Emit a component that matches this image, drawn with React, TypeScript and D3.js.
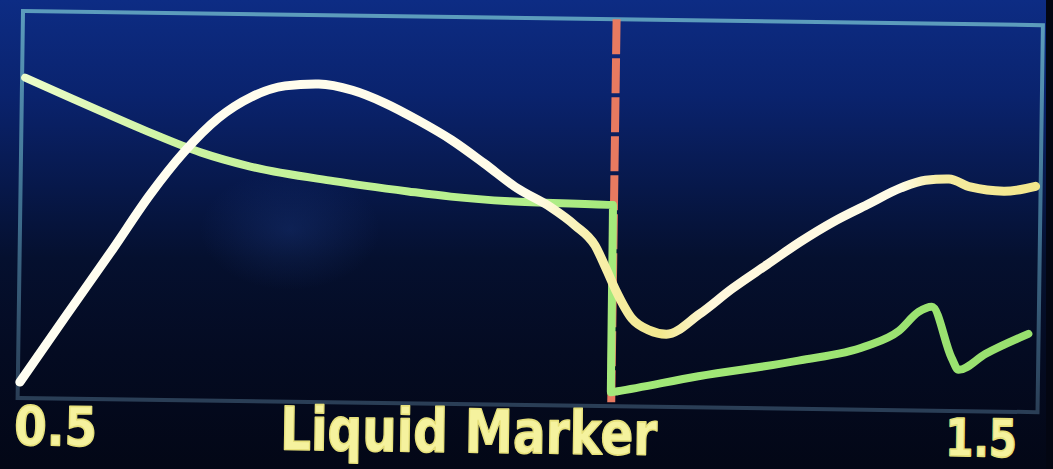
import React from 'react';
import * as d3 from 'd3';

// ---- data ----
const xDomain: [number, number] = [0.5, 1.5];
const yDomain: [number, number] = [0, 100];
const tickLabels = ['0.5', '1.5'];
const axisTitle = 'Liquid Marker';
const markerValue = 1.082;

const mainX = [0.502, 0.546, 0.591, 0.627, 0.660, 0.693, 0.725, 0.758, 0.791, 0.824, 0.856, 0.889, 0.922, 0.954, 0.987, 1.020, 1.044, 1.064, 1.075, 1.085, 1.101, 1.118, 1.135, 1.167, 1.199, 1.233, 1.265, 1.297, 1.330, 1.363, 1.387, 1.410, 1.431, 1.464, 1.495];
const mainY = [3.6, 20.9, 38.4, 52.8, 64.1, 73.0, 78.6, 81.6, 82.2, 80.7, 77.5, 73.1, 68.1, 62.2, 55.8, 51.0, 46.4, 41.2, 35.3, 29.6, 22.4, 19.4, 18.4, 23.7, 30.5, 36.9, 42.9, 48.2, 52.8, 57.3, 59.4, 59.8, 57.8, 56.8, 58.2];

const stepX = [0.503, 0.540, 0.578, 0.627, 0.676, 0.725, 0.807, 0.880, 0.922, 0.980, 1.081, 1.0815, 1.088, 1.167, 1.265, 1.330, 1.363, 1.382, 1.395, 1.415, 1.422, 1.448, 1.490];
const stepY = [82.8, 78.6, 74.3, 68.9, 64.0, 60.5, 57.0, 54.6, 53.4, 52.4, 51.8, 3.1, 3.4, 7.6, 12.0, 15.9, 20.1, 25.1, 26.5, 13.3, 10.2, 14.4, 19.8];

const W = 1053;
const H = 469;
const frame = { left: 20, right: 1040, top: 18, bottom: 405 };

export default function App() {
  const x = d3.scaleLinear().domain(xDomain).range([frame.left, frame.right]);
  const y = d3.scaleLinear().domain(yDomain).range([403, 18.5]);

  const mainData = mainX.map((v, i) => [v, mainY[i]] as [number, number]);
  const stepData = stepX.map((v, i) => [v, stepY[i]] as [number, number]);

  const line = d3
    .line<[number, number]>()
    .x((d) => x(d[0]))
    .y((d) => y(d[1]))
    .curve(d3.curveMonotoneX);

  const mx = x(markerValue);

  return (
    <svg
      width={W}
      height={H}
      viewBox={`0 0 ${W} ${H}`}
      style={{ position: 'absolute', left: 0, top: 0, display: 'block' }}
    >
      <defs>
        <linearGradient id="bg" x1="0" y1="0" x2="0" y2="1">
          <stop offset="0" stopColor="#0d2c84" />
          <stop offset="0.2" stopColor="#0a236e" />
          <stop offset="0.4" stopColor="#07184a" />
          <stop offset="0.55" stopColor="#05102f" />
          <stop offset="0.75" stopColor="#040b22" />
          <stop offset="1" stopColor="#030716" />
        </linearGradient>
        <radialGradient id="glare" cx="0.5" cy="0.5" r="0.5">
          <stop offset="0" stopColor="#2a52b0" stopOpacity="0.22" />
          <stop offset="1" stopColor="#2a52b0" stopOpacity="0" />
        </radialGradient>
        <linearGradient id="frameStroke" x1="0" y1="0" x2="0" y2="1">
          <stop offset="0" stopColor="#5c9cbc" />
          <stop offset="0.5" stopColor="#3f7090" />
          <stop offset="1" stopColor="#2a3e56" />
        </linearGradient>
        <linearGradient id="mainGrad" gradientUnits="userSpaceOnUse" x1={frame.left} y1="0" x2={frame.right} y2="0">
          <stop offset="0" stopColor="#fffef2" />
          <stop offset="0.5" stopColor="#fffce8" />
          <stop offset="0.56" stopColor="#f8f0ac" />
          <stop offset="0.63" stopColor="#f2e88e" />
          <stop offset="0.68" stopColor="#fff8dc" />
          <stop offset="0.86" stopColor="#fffce8" />
          <stop offset="0.9" stopColor="#f6eca2" />
          <stop offset="1" stopColor="#f2e68a" />
        </linearGradient>
        <linearGradient id="greenGrad" gradientUnits="userSpaceOnUse" x1={frame.left} y1="0" x2={frame.right} y2="0">
          <stop offset="0" stopColor="#edfcca" />
          <stop offset="0.15" stopColor="#cdf4a2" />
          <stop offset="0.5" stopColor="#b2ee8a" />
          <stop offset="0.6" stopColor="#a2e878" />
          <stop offset="1" stopColor="#98e06e" />
        </linearGradient>
      </defs>

      <rect x={0} y={0} width={W} height={H} fill="url(#bg)" />
      <ellipse cx={290} cy={230} rx={90} ry={60} fill="url(#glare)" />
      <rect x={1046} y={0} width={7} height={H} fill="#030612" />

      <g transform="rotate(0.8, 526, 230)">
        <rect
          x={frame.left}
          y={frame.top}
          width={frame.right - frame.left}
          height={frame.bottom - frame.top}
          fill="none"
          stroke="url(#frameStroke)"
          strokeWidth={4}
        />

        <line
          x1={mx}
          x2={mx}
          y1={frame.top}
          y2={frame.bottom - 4}
          stroke="#e87a60"
          strokeWidth={8}
          strokeDasharray="35 4"
        />

        <path d={line(stepData) || ''} fill="none" stroke="url(#greenGrad)" strokeWidth={8} strokeLinejoin="round" strokeLinecap="round" />
        <path d={line(mainData) || ''} fill="none" stroke="url(#mainGrad)" strokeWidth={9} strokeLinejoin="round" strokeLinecap="round" />

        <g fontFamily="DejaVu Sans" fontWeight="bold" fill="#f5f29e" stroke="#e6e07a" strokeWidth={1.6} strokeLinejoin="round">
          <text x={x(0.5) - 3} y={452} fontSize={54} textLength={83} lengthAdjust="spacingAndGlyphs">
            {tickLabels[0]}
          </text>
          <text x={283} y={453} fontSize={60} textLength={377} lengthAdjust="spacingAndGlyphs">
            {axisTitle}
          </text>
          <text x={x(1.5) - 92} y={450} fontSize={52} textLength={72} lengthAdjust="spacingAndGlyphs">
            {tickLabels[1]}
          </text>
        </g>
      </g>
    </svg>
  );
}
